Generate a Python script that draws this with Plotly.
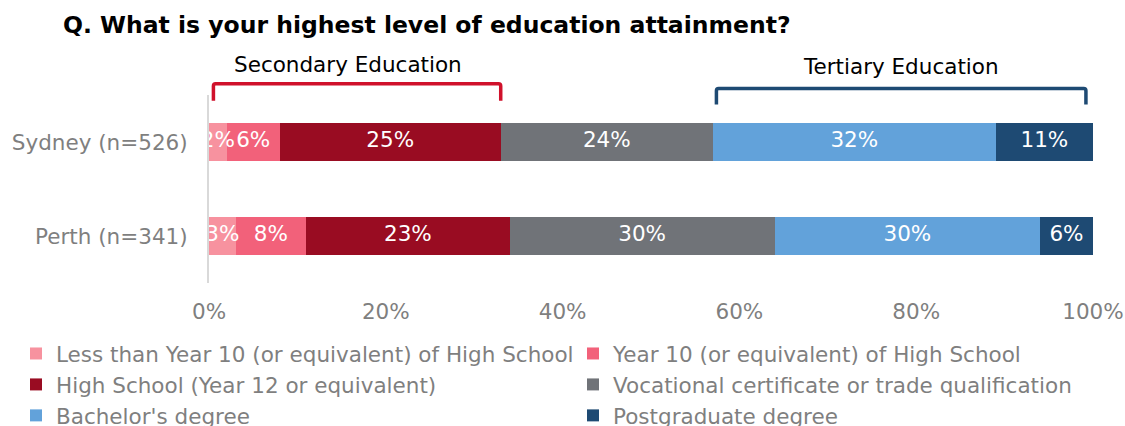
import plotly.graph_objects as go

# Survey results: share of respondents by highest education level
cities = ["Sydney (n=526)", "Perth (n=341)"]
levels = [
    "Less than Year 10 (or equivalent) of High School",
    "Year 10 (or equivalent) of High School",
    "High School (Year 12 or equivalent)",
    "Vocational certificate or trade qualification",
    "Bachelor's degree",
    "Postgraduate degree",
]
sydney = [2, 6, 25, 24, 32, 11]
perth = [3, 8, 23, 30, 30, 6]
colors = ["#F7929F", "#F2617A", "#990C22", "#707378", "#62A2DA", "#1E4A73"]
x_ticks = [0, 20, 40, 60, 80, 100]

FONT = "DejaVu Sans"
GREY = "#7F7F7F"

fig = go.Figure()
for i, name in enumerate(levels):
    vals = [sydney[i], perth[i]]
    fig.add_trace(go.Bar(
        y=cities, x=vals, name=name, orientation="h",
        marker=dict(color=colors[i], line=dict(width=0)),
        width=0.4,
        hoverinfo="x+name",
        # two legend columns: even entries left, odd entries right
        legend="legend" if i % 2 == 0 else "legend2",
    ))

# Value labels drawn on top of all segments so narrow ones can overflow
lab_x, lab_y, lab_t = [], [], []
for city, series in zip(cities, [sydney, perth]):
    start = 0
    for v in series:
        lab_x.append(start + v / 2)
        lab_y.append(city)
        lab_t.append(f"{v}%")
        start += v
fig.add_trace(go.Scatter(
    x=lab_x, y=lab_y, text=lab_t, mode="text",
    textfont=dict(family=FONT, size=21.5, color="white"),
    showlegend=False, hoverinfo="skip", cliponaxis=False,
))

# Brackets grouping secondary and tertiary categories (spans taken from Sydney)
sec_end = sum(sydney[:3])
ter_start = sum(sydney[:4])

def bracket(x0, x1, ytop, ybot, color):
    r = 0.012
    rx = 0.25
    path = (f"M {x0},{ybot} L {x0},{ytop - r} Q {x0},{ytop} {x0 + rx},{ytop} "
            f"L {x1 - rx},{ytop} Q {x1},{ytop} {x1},{ytop - r} L {x1},{ybot}")
    return dict(type="path", path=path, xref="x", yref="paper",
                line=dict(color=color, width=3.5))

fig.add_shape(bracket(0.5, sec_end, 1.06, 0.97, "#D0112B"))
fig.add_shape(bracket(ter_start + 0.4, 99.2, 1.035, 0.95, "#1E4A73"))

fig.add_annotation(x=(0.5 + sec_end) / 2, y=1.16, xref="x", yref="paper",
                   text="Secondary Education", showarrow=False, yanchor="middle",
                   xshift=-9,
                   font=dict(family=FONT, size=21.5, color="#000000"))
fig.add_annotation(x=(ter_start + 0.4 + 99.2) / 2, y=1.154, xref="x", yref="paper",
                   text="Tertiary Education", showarrow=False, yanchor="middle",
                   font=dict(family=FONT, size=21.5, color="#000000"))

legend_style = dict(
    orientation="v", traceorder="normal",
    yanchor="top", y=(283 - 333) / 188, xanchor="left",
    font=dict(family=FONT, size=21.5, color=GREY),
    itemclick=False, itemdoubleclick=False,
    bgcolor="rgba(0,0,0,0)",
)

fig.update_layout(
    barmode="stack",
    width=1125, height=426,
    margin=dict(l=209, r=32, t=95, b=143, autoexpand=False),
    paper_bgcolor="white", plot_bgcolor="white",
    font=dict(family=FONT, color=GREY),
    title=dict(
        text="<b>Q. What is your highest level of education attainment?</b>",
        x=63 / 1125, xanchor="left", xref="container",
        y=1 - 25 / 426, yanchor="middle", yref="container",
        font=dict(family=FONT, size=23.5, color="#000000"),
    ),
    xaxis=dict(
        range=[0, 100], tickvals=x_ticks,
        ticktext=[f"{v}%" for v in x_ticks],
        showgrid=False, zeroline=False, showline=False,
        tickfont=dict(family=FONT, size=21.5, color=GREY),
        ticklabelstandoff=13, fixedrange=True,
    ),
    yaxis=dict(
        autorange="reversed", showgrid=False, zeroline=False,
        showline=True, linecolor="#D9D9D9", linewidth=2,
        tickfont=dict(family=FONT, size=21.5, color=GREY),
        ticklabelstandoff=15, fixedrange=True,
    ),
    legend=dict(legend_style, x=(16 - 209) / 884),
    legend2=dict(legend_style, x=(573 - 209) / 884),
    showlegend=True,
)

fig.write_html("out.html")
